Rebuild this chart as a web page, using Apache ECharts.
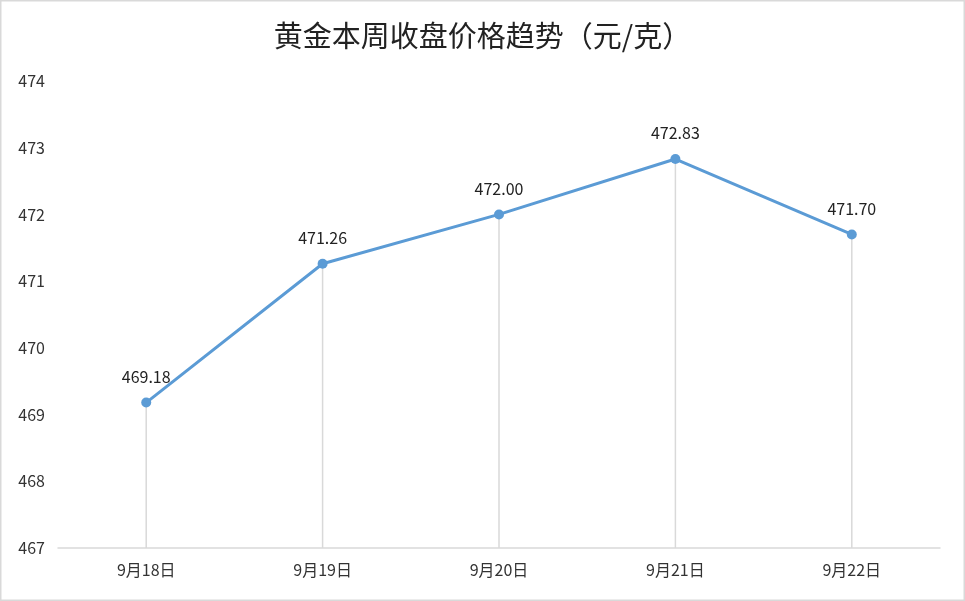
<!DOCTYPE html>
<html>
<head>
<meta charset="utf-8">
<script src="https://cdn.jsdelivr.net/npm/echarts@6/dist/echarts.min.js"></script>
<style>
  html, body { margin: 0; padding: 0; background: #fff; }
  #chart { width: 965px; height: 601px; }
</style>
</head>
<body>
<div id="chart"></div>
<script>
  var days = ['9月18日', '9月19日', '9月20日', '9月21日', '9月22日']
  var prices = [469.18, 471.26, 472.00, 472.83, 471.70]
  var yMin = 467
  var yMax = 474

  var myChart = echarts.init(document.getElementById('chart'))
  myChart.setOption({
    animation: false,
    textStyle: { fontFamily: '"Noto Sans CJK SC", "Noto Sans", sans-serif' },
    title: {
      text: '黄金本周收盘价格趋势（元/克）',
      left: 'center',
      top: 16,
      textStyle: { fontSize: 29, fontWeight: 'normal', color: '#222' }
    },
    graphic: [{
      type: 'rect',
      shape: { x: 0.5, y: 0.5, width: 964, height: 600 },
      style: { fill: 'none', stroke: '#d9d9d9', lineWidth: 2 },
      silent: true
    }],
    grid: { left: 58, right: 25, top: 81, bottom: 53 },
    xAxis: {
      type: 'category',
      data: days,
      axisLine: { lineStyle: { color: '#d9d9d9', width: 1.5 } },
      axisTick: { show: false },
      axisLabel: { color: '#333', fontSize: 16, margin: 14 }
    },
    yAxis: {
      type: 'value',
      min: yMin,
      max: yMax,
      interval: 1,
      splitLine: { show: false },
      axisLine: { show: false },
      axisTick: { show: false },
      axisLabel: { color: '#333', fontSize: 16, margin: 13, align: 'right' }
    },
    series: [
      { // thin bars as drop lines
        type: 'bar',
        data: prices,
        barWidth: 1.5,
        itemStyle: { color: '#d9d9d9' },
        silent: true,
        z: 1
      },
      {
        type: 'line',
        data: prices,
        symbol: 'circle',
        symbolSize: 10,
        showAllSymbol: true,
        lineStyle: { color: '#5b9bd5', width: 3 },
        itemStyle: { color: '#5b9bd5', borderWidth: 0 },
        label: {
          show: true,
          position: 'top',
          distance: 13,
          fontSize: 16,
          color: '#222',
          formatter: function (p) { return p.value.toFixed(2) }
        },
        z: 3
      }
    ]
  })
</script>
</body>
</html>
